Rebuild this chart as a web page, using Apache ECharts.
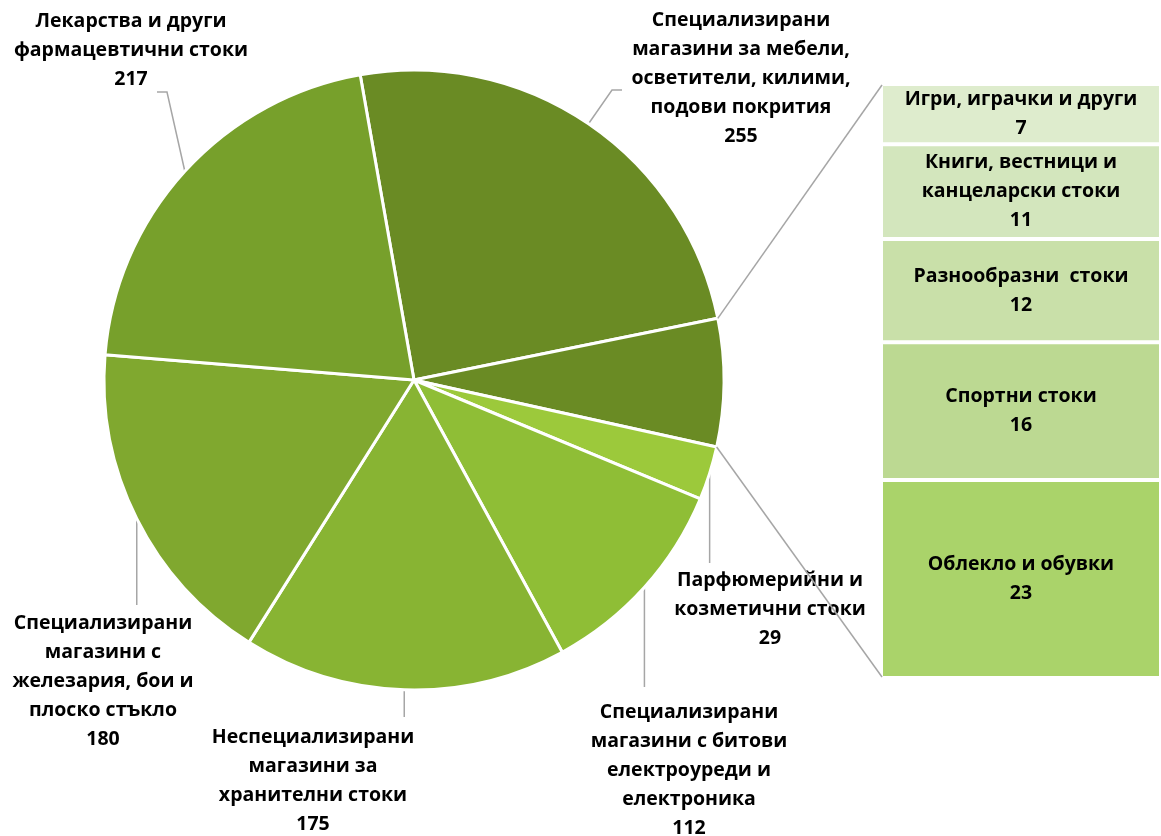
<!DOCTYPE html>
<html><head><meta charset="utf-8">
<script src="https://cdn.jsdelivr.net/npm/echarts@6/dist/echarts.min.js"></script>
<style>html,body{margin:0;padding:0;background:#fff}#c{width:1161px;height:836px}</style>
</head><body><div id="c"></div>
<script>
// ---- data ----
const pieNames = [
  'Специализирани\nмагазини за мебели,\nосветители, килими,\nподови покрития',
  'Други',
  'Парфюмерийни и\nкозметични стоки',
  'Специализирани\nмагазини с битови\nелектроуреди и\nелектроника',
  'Неспециализирани\nмагазини за\nхранителни стоки',
  'Специализирани\nмагазини с\nжелезария, бои и\nплоско стъкло',
  'Лекарства и други\nфармацевтични стоки'
];
const pieValues = [255, 69, 29, 112, 175, 180, 217];
const barNames = ['Облекло и обувки', 'Спортни стоки', 'Разнообразни  стоки', 'Книги, вестници и\nканцеларски стоки', 'Игри, играчки и други'];
const barValues = [23, 16, 12, 11, 7];

// ---- styles / layout ----
const pieColors = ['#6a8b24', '#6a8b24', '#9cc93b', '#8fbe36', '#88b433', '#80a82f', '#77a02b'];
const barColors = ['#aad36a', '#bcd992', '#c9e0a9', '#d3e6bd', '#deeccd'];
const FONT = '"Open Sans", "Noto Sans", sans-serif';
const FS = 19.5;
const CX = 414, CY = 380, R = 310, START = 100;
const GRID = {left: 881, top: 84, width: 284, height: 594};
const labelPos = {
  0: {x: 741, y: 78, line: [[612, 90], [622, 90]]},
  2: {x: 770, y: 609, vEnd: 563},
  3: {x: 689, y: 770, vEnd: 687},
  4: {x: 313, y: 781, vEnd: 717},
  5: {x: 103, y: 681, vEnd: 605},
  6: {x: 131, y: 50, line: [[167, 92], [157, 92]]}
};

const chart = echarts.init(document.getElementById('c'), null, {renderer: 'canvas'});
const otherTotal = barValues.reduce((a, b) => a + b, 0);

const option = {
  animation: false,
  backgroundColor: '#fff',
  grid: {left: GRID.left, top: GRID.top, width: GRID.width, height: GRID.height, containLabel: false},
  xAxis: {type: 'category', data: ['Други'], show: false},
  yAxis: {type: 'value', min: 0, max: otherTotal, show: false},
  series: [
    {
      type: 'pie',
      center: [CX, CY],
      radius: R,
      startAngle: START,
      clockwise: true,
      avoidLabelOverlap: false,
      data: pieNames.map((n, i) => ({
        name: n, value: pieValues[i],
        itemStyle: {color: pieColors[i]},
        label: {show: i !== 1},
        labelLine: {show: i !== 1}
      })),
      itemStyle: {borderColor: '#fff', borderWidth: 3},
      label: {
        show: true, position: 'outside',
        formatter: '{b}\n{c}',
        fontFamily: FONT, fontWeight: 'bold', fontSize: FS, lineHeight: 29,
        color: '#000', align: 'center'
      },
      labelLine: {show: true, length: 20, length2: 10, lineStyle: {color: '#a6a6a6', width: 1.5}},
      labelLayout: function (p) {
        const c = labelPos[p.dataIndex];
        if (!c) return {};
        const s = p.labelLinePoints ? p.labelLinePoints[0] : [CX, CY];
        let pts;
        if (c.line) pts = [s, c.line[0], c.line[1]];
        else pts = [s, [s[0], (s[1] + c.vEnd) / 2], [s[0], c.vEnd]];
        return {x: c.x, y: c.y, align: 'center', verticalAlign: 'middle', labelLinePoints: pts};
      }
    }
  ].concat(barNames.map((n, i) => ({
    type: 'bar',
    name: n,
    stack: 'other',
    barWidth: '100%',
    data: [barValues[i]],
    itemStyle: {color: barColors[i], borderColor: '#fff', borderWidth: 2},
    label: {
      show: true, position: 'inside',
      formatter: function (p) { return p.seriesName + '\n' + p.value; },
      fontFamily: FONT, fontWeight: 'bold', fontSize: FS, lineHeight: 29, color: '#000', align: 'center'
    }
  })))
};
chart.setOption(option);

// connector lines from the "other" slice edges to the bar
const total = pieValues.reduce((a, b) => a + b, 0);
const off = 90 - START;
const acc = pieValues[0];
const a1 = (off + acc / total * 360) * Math.PI / 180;
const a2 = (off + (acc + pieValues[1]) / total * 360) * Math.PI / 180;
const p1 = [CX + R * Math.sin(a1), CY - R * Math.cos(a1)];
const p2 = [CX + R * Math.sin(a2), CY - R * Math.cos(a2)];
const yTop = chart.convertToPixel({yAxisIndex: 0}, otherTotal) + 1;
const yBot = chart.convertToPixel({yAxisIndex: 0}, 0) - 1;
chart.setOption({
  graphic: [
    {type: 'line', shape: {x1: p1[0], y1: p1[1], x2: GRID.left + 1, y2: yTop}, style: {stroke: '#a6a6a6', lineWidth: 1.5}, z: 10},
    {type: 'line', shape: {x1: p2[0], y1: p2[1], x2: GRID.left + 1, y2: yBot}, style: {stroke: '#a6a6a6', lineWidth: 1.5}, z: 10}
  ]
});
</script></body></html>
